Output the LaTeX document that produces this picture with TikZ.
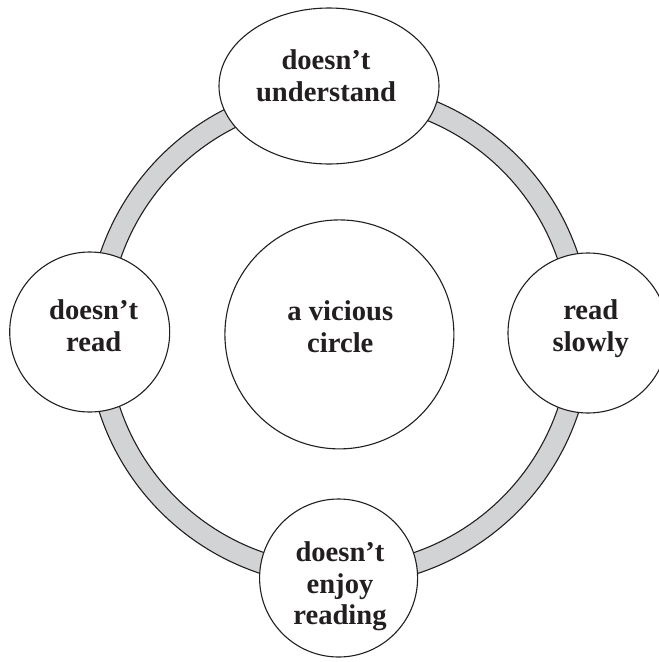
\documentclass[tikz,border=0pt]{standalone}
\usepackage{fontspec}
\setmainfont{Liberation Serif}
\usetikzlibrary{shapes.geometric}
\definecolor{ringgray}{RGB}{209,211,212}
\definecolor{ink}{RGB}{35,31,32}
\begin{document}
\begin{tikzpicture}[x=1pt,y=-1pt,
  shapeline/.style={draw=ink, line width=1.1pt, fill=white, inner sep=0pt},
  bubble/.style={shapeline, circle, minimum size=#1},
  oval/.style={shapeline, ellipse, minimum width=220pt, minimum height=156pt},
  lbl/.style={font=\fontsize{28.6}{31.5}\selectfont\bfseries, text=ink, align=center, inner sep=0pt}]
\useasboundingbox (0,0) rectangle (659,662);
\clip (0,0) rectangle (659,662);
\coordinate (o) at (339,334);
% ring
\draw[draw=ink, line width=1.1pt, fill=ringgray, even odd rule]
  (o) circle[radius=252] (o) circle[radius=231];
% shapes
\node[oval] (top) at (329,86) {};
\node[bubble=229pt] (mid) at (339.4,334.4) {};
\node[bubble=160pt] (left) at (89.7,332) {};
\node[bubble=160pt] (right) at (588,333) {};
\node[bubble=158pt] (bottom) at (338.6,578) {};
% texts
\node[lbl] (ttop) at (326,75.6) {doesn’t\\understand};
\node[lbl] (tmid) at (340.3,326.5) {a vicious\\circle};
\node[lbl] (tleft) at (93.7,325.6) {doesn’t\\read};
\node[lbl] (tright) at (590.8,328.8) {read\\slowly};
\node[lbl] (tbottom) at (340,586.5) {doesn’t\\enjoy\\reading};
\end{tikzpicture}
\end{document}
